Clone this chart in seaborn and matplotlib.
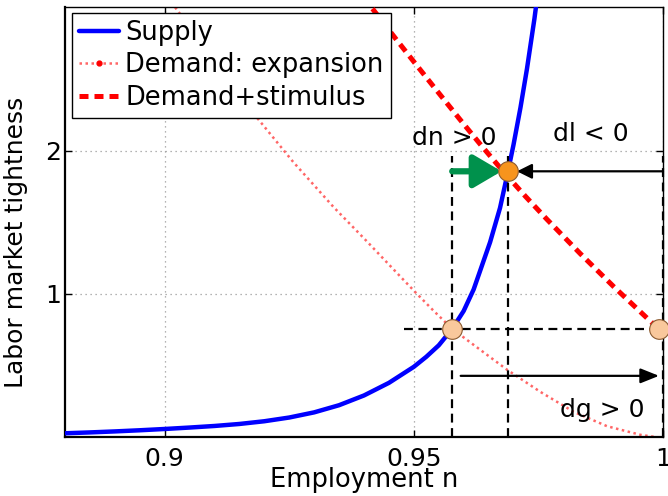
import matplotlib
matplotlib.use("Agg")
import matplotlib.pyplot as plt
import seaborn as sns
from matplotlib.lines import Line2D

# Labor supply: tightness as a function of employment
supply_n = [0.880, 0.885, 0.890, 0.895, 0.900, 0.905, 0.910, 0.915, 0.920,
            0.925, 0.930, 0.935, 0.940, 0.945, 0.950, 0.9525, 0.955, 0.9577,
            0.960, 0.962, 0.9633, 0.9653, 0.9673, 0.9689, 0.970, 0.9714,
            0.9727, 0.9742, 0.9745]
supply_theta = [0.026, 0.032, 0.039, 0.047, 0.056, 0.066, 0.077, 0.091, 0.110,
                0.136, 0.172, 0.222, 0.290, 0.378, 0.490, 0.560, 0.640, 0.755,
                0.880, 1.030, 1.160, 1.360, 1.600, 1.855, 2.040, 2.300,
                2.570, 2.920, 3.0]

# Aggregate demand in an expansion
expansion_n = [0.9021, 0.9100, 0.9178, 0.9258, 0.9339, 0.9406, 0.9473, 0.9506,
               0.954, 0.9577, 0.9627, 0.9687, 0.9754, 0.9821, 0.9888, 0.9955,
               0.9985]
expansion_theta = [3.0, 2.63, 2.26, 1.92, 1.605, 1.365, 1.12, 1.0,
                   0.88, 0.755, 0.625, 0.47, 0.315, 0.175, 0.075, 0.015,
                   0.0]

# Aggregate demand with a government stimulus
stimulus_n = [0.9417, 0.9466, 0.950, 0.954, 0.9593, 0.9633, 0.9667, 0.9688,
              0.9724, 0.9767, 0.9834, 0.9901, 0.9968, 0.9991]
stimulus_theta = [2.99, 2.77, 2.62, 2.445, 2.215, 2.045, 1.905, 1.82,
                  1.68, 1.52, 1.28, 1.05, 0.83, 0.755]

# Equilibrium points
expansion_eq_n = [0.9577, 0.9991]
expansion_eq_theta = [0.755, 0.755]
stimulus_eq_n = [0.9688]
stimulus_eq_theta = [1.855]

legend_labels = ["Supply", "Demand: expansion", "Demand+stimulus"]
x_ticks = [0.9, 0.95, 1.0]
x_tick_labels = ["0.9", "0.95", "1"]
y_ticks = [1, 2]
y_tick_labels = ["1", "2"]

sns.set_theme(style="ticks")
plt.rcParams["font.family"] = ["DejaVu Sans"]
plt.rcParams["text.color"] = "black"
plt.rcParams["axes.labelcolor"] = "black"

BLUE = "#0000ff"
RED = "#ff0000"
PINK = "#ff6666"
GREEN = "#00914c"
ORANGE = "#f7941d"
PEACH = "#f9c89c"
DOT_EDGE = "#8a5a30"
DASH = (0, (4, 2.5))

fig = plt.figure(figsize=(6.68, 4.96), dpi=100)
ax = fig.add_axes([65 / 668, 1 - 437 / 496, 598 / 668, 429.7 / 496])

ax.set_xlim(0.88, 1.0)
ax.set_ylim(0, 3.0)
ax.grid(True, linestyle=(0, (1, 3)), color="#9a9a9a", linewidth=0.9)
ax.set_axisbelow(True)

sns.lineplot(x=expansion_n, y=expansion_theta, ax=ax, color=PINK, linewidth=1.8,
             linestyle=(0, (1, 1.4)), estimator=None, sort=False, zorder=2)
sns.lineplot(x=supply_n, y=supply_theta, ax=ax, color=BLUE, linewidth=3.2,
             estimator=None, sort=False, zorder=3)
sns.lineplot(x=stimulus_n, y=stimulus_theta, ax=ax, color=RED, linewidth=3.6,
             linestyle=(0, (1.8, 1.2)), estimator=None, sort=False, zorder=3)

# Guides from the equilibria to the axes
ax.vlines([expansion_eq_n[0], stimulus_eq_n[0]], 0, 1.96, colors="black",
          linestyles=DASH, linewidth=1.6, zorder=4)
ax.vlines([1.0], 0, 1.96, colors="black", linestyles=DASH, linewidth=1.6,
          zorder=4, clip_on=False)
ax.hlines(expansion_eq_theta[0], 0.948, expansion_eq_n[1], colors="black",
          linestyles=DASH, linewidth=1.6, zorder=4)

# Arrows
ax.annotate("", xy=(0.9676, stimulus_eq_theta[0]),
            xytext=(expansion_eq_n[0], stimulus_eq_theta[0]),
            arrowprops=dict(arrowstyle="-|>,head_length=0.85,head_width=0.5",
                            mutation_scale=20, color=GREEN, lw=4.5,
                            shrinkA=0, shrinkB=0), zorder=5)
ax.annotate("", xy=(0.9707, stimulus_eq_theta[0]),
            xytext=(1.0, stimulus_eq_theta[0]),
            arrowprops=dict(arrowstyle="-|>,head_length=0.6,head_width=0.3",
                            mutation_scale=15, color="black", lw=1.6,
                            shrinkA=0, shrinkB=0), zorder=5)
ax.annotate("", xy=(0.9992, 0.427), xytext=(0.9594, 0.427),
            arrowprops=dict(arrowstyle="-|>,head_length=0.75,head_width=0.3",
                            mutation_scale=15, color="black", lw=1.6,
                            shrinkA=0, shrinkB=0), zorder=5)

sns.scatterplot(x=expansion_eq_n, y=expansion_eq_theta, ax=ax, color=PEACH,
                s=200, edgecolor=DOT_EDGE, linewidth=0.8, zorder=6, clip_on=False)
sns.scatterplot(x=stimulus_eq_n, y=stimulus_eq_theta, ax=ax, color=ORANGE,
                s=200, edgecolor=DOT_EDGE, linewidth=0.8, zorder=6, clip_on=False)

ax.text(0.9581, 2.04, "dn > 0", ha="center", va="baseline", fontsize=18)
ax.text(0.9856, 2.07, "dl < 0", ha="center", va="baseline", fontsize=18)
ax.text(0.9878, 0.142, "dg > 0", ha="center", va="baseline", fontsize=18)

ax.set_xticks(x_ticks)
ax.set_xticklabels(x_tick_labels)
ax.set_yticks(y_ticks)
ax.set_yticklabels(y_tick_labels)
ax.tick_params(direction="in", top=True, right=True, length=5, width=1,
               labelsize=18, pad=7, colors="black")
ax.tick_params(axis="y", pad=3)
for side in ["left", "bottom", "top", "right"]:
    ax.spines[side].set_color("black")
    ax.spines[side].set_linewidth(1.0)
ax.spines["left"].set_linewidth(1.6)
ax.spines["bottom"].set_linewidth(1.6)

ax.set_xlabel("Employment n", fontsize=18.5, labelpad=-2.5)
ax.set_ylabel("Labor market tightness", fontsize=18)
ax.yaxis.set_label_coords(-0.062, 0.454)

handles = [
    Line2D([], [], color=BLUE, linewidth=3.2),
    Line2D([], [], color=PINK, linewidth=1.8, linestyle=(0, (1, 1.4)),
           marker=".", markersize=7, markerfacecolor=RED, markeredgecolor=RED),
    Line2D([], [], color=RED, linewidth=3.6, linestyle=(0, (1.8, 1.2))),
]
leg = ax.legend(handles, legend_labels, loc="upper left",
                bbox_to_anchor=(7 / 598, 424 / 429.7), borderaxespad=0,
                frameon=True, fancybox=False, edgecolor="black", framealpha=1,
                fontsize=18.5, handlelength=1.55, handletextpad=0.25,
                labelspacing=0.24, borderpad=0.28)
leg.get_frame().set_linewidth(1.0)
leg.set_zorder(10)

fig.savefig("out.png", dpi=100)
